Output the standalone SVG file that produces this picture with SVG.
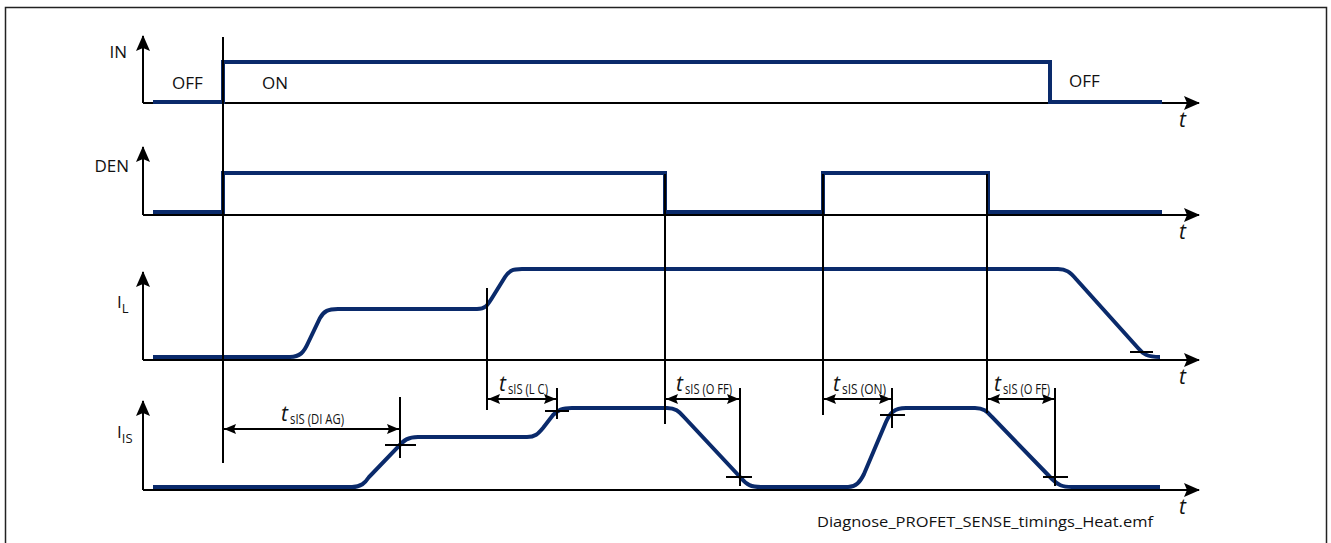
<svg xmlns="http://www.w3.org/2000/svg" width="1331" height="543" viewBox="0 0 1331 543">
<style>
.ax{stroke:#000;stroke-width:2;fill:none}
.ln{stroke:#000;stroke-width:2;fill:none}
.sig{stroke:#0a2a6b;stroke-width:4;fill:none;stroke-linejoin:miter}
.lbl{font-family:"Open Sans","Noto Sans",sans-serif;font-size:17px;fill:#111}
.t{font-family:"Open Sans","Noto Sans",sans-serif;font-size:21px;font-style:italic;fill:#111}
.sub{font-family:"Open Sans","Noto Sans",sans-serif;font-size:14px;fill:#111}
.foot{font-family:"Open Sans","Noto Sans",sans-serif;font-size:14px;fill:#111}
</style>
<defs>
<marker id="ah" markerUnits="userSpaceOnUse" markerWidth="16" markerHeight="14" refX="15" refY="7" orient="auto">
<path d="M0 0 L16 7 L0 14 L3 7 Z" fill="#000"/>
</marker>
<marker id="dh" markerUnits="userSpaceOnUse" markerWidth="12" markerHeight="10" refX="12" refY="5" orient="auto-start-reverse">
<path d="M0 0 L12 5 L0 10 L2 5 Z" fill="#000"/>
</marker>
</defs>
<rect x="5.5" y="7.5" width="1321" height="545" fill="#fff" stroke="#222" stroke-width="1.5"/>

<g id="axis-in">
<polyline class="ax" points="143,103 143,36" marker-end="url(#ah)"/>
<line class="ax" x1="143" y1="103" x2="1199" y2="103" marker-end="url(#ah)"/>
<text class="lbl" x="127" y="58" text-anchor="end">IN</text>
<text class="t" x="1179" y="127">t</text>
<text class="lbl" x="172" y="89">OFF</text>
<text class="lbl" x="262" y="89">ON</text>
<text class="lbl" x="1069" y="87">OFF</text>
</g>
<g id="axis-den">
<polyline class="ax" points="143,215 143,147" marker-end="url(#ah)"/>
<line class="ax" x1="143" y1="215" x2="1199" y2="215" marker-end="url(#ah)"/>
<text class="lbl" x="129" y="172" text-anchor="end">DEN</text>
<text class="t" x="1179" y="239">t</text>
</g>
<g id="axis-il">
<polyline class="ax" points="143,360 143,272" marker-end="url(#ah)"/>
<line class="ax" x1="143" y1="360" x2="1199" y2="360" marker-end="url(#ah)"/>
<text class="lbl" x="117" y="308">I<tspan font-size="13" dy="5">L</tspan></text>
<text class="t" x="1179" y="384">t</text>
</g>
<g id="axis-iis">
<polyline class="ax" points="143,490 143,401" marker-end="url(#ah)"/>
<line class="ax" x1="143" y1="490" x2="1199" y2="490" marker-end="url(#ah)"/>
<text class="lbl" x="117" y="438">I<tspan font-size="13" dy="5">IS</tspan></text>
<text class="t" x="1179" y="514">t</text>
</g>

<g id="signals">
<path id="sig-in" class="sig" d="M153 102 L223 102 L223 62 L1050 62 L1050 102 L1162 102"/>
<path id="sig-den" class="sig" d="M153 212 L223 212 L223 173 L665 173 L665 212 L823 212 L823 173 L988 173 L988 212 L1162 212"/>
<path id="sig-il" class="sig" d="M153 357 L290 357 C300 357 304 352 308 343 L320 318 C324 311 328 309 338 309 L477 309 C485 309 487 306 492 298 L505 277 C509 271 512 269 522 269 L1058 269 C1066 269 1070 272 1076 279 L1138 348 C1143 354 1147 357 1160 357"/>
<path id="sig-iis" class="sig" d="M153 487 L352 487 C361 487 365 483 369 477 L398 447 C404 440 408 437 418 437 L527 437 C535 437 538 434 543 428 L553 415 C558 410 562 408 572 408 L667 408 C675 408 679 411 684 417 L741 478 C747 485 751 487 761 487 L848 487 C856 487 860 482 864 474 L886 422 C890 413 894 408 906 408 L975 408 C983 408 987 411 992 417 L1052 479 C1058 485 1062 487 1072 487 L1160 487"/>
</g>

<g id="connectors">
<line class="ln" x1="223" y1="37" x2="223" y2="463"/>
<line class="ln" x1="487" y1="288" x2="487" y2="410"/>
<line class="ln" x1="665" y1="174" x2="665" y2="424"/>
<line class="ln" x1="823" y1="174" x2="823" y2="415"/>
<line class="ln" x1="987" y1="174" x2="987" y2="413"/>
<line class="ln" x1="400" y1="397" x2="400" y2="458"/>
<line class="ln" x1="385" y1="445" x2="416" y2="445"/>
<line class="ln" x1="557" y1="388" x2="557" y2="419"/>
<line class="ln" x1="545" y1="411" x2="569" y2="411"/>
<line class="ln" x1="740" y1="388" x2="740" y2="486"/>
<line class="ln" x1="726" y1="477" x2="752" y2="477"/>
<line class="ln" x1="892" y1="388" x2="892" y2="428"/>
<line class="ln" x1="880" y1="415" x2="905" y2="415"/>
<line class="ln" x1="1055" y1="388" x2="1055" y2="486"/>
<line class="ln" x1="1043" y1="477" x2="1068" y2="477"/>
<line class="ln" x1="1130" y1="352" x2="1153" y2="352"/>
<line class="ln" x1="224" y1="429" x2="399" y2="429" marker-start="url(#dh)" marker-end="url(#dh)"/>
<line class="ln" x1="488" y1="399" x2="556" y2="399" marker-start="url(#dh)" marker-end="url(#dh)"/>
<line class="ln" x1="666" y1="399" x2="739" y2="399" marker-start="url(#dh)" marker-end="url(#dh)"/>
<line class="ln" x1="824" y1="399" x2="891" y2="399" marker-start="url(#dh)" marker-end="url(#dh)"/>
<line class="ln" x1="988" y1="399" x2="1054" y2="399" marker-start="url(#dh)" marker-end="url(#dh)"/>
</g>

<g id="labels">
<text class="t" x="281" y="421">t</text><text class="sub" x="290" y="424" textLength="54" lengthAdjust="spacingAndGlyphs">sIS (DI AG)</text>
<text class="t" x="499" y="391">t</text><text class="sub" x="508" y="394" textLength="40" lengthAdjust="spacingAndGlyphs">sIS (L C)</text>
<text class="t" x="676" y="391">t</text><text class="sub" x="685" y="394" textLength="47" lengthAdjust="spacingAndGlyphs">sIS (O FF)</text>
<text class="t" x="833" y="391">t</text><text class="sub" x="842" y="394" textLength="44" lengthAdjust="spacingAndGlyphs">sIS (ON)</text>
<text class="t" x="994" y="391">t</text><text class="sub" x="1003" y="394" textLength="47" lengthAdjust="spacingAndGlyphs">sIS (O FF)</text>
<text class="foot" x="817" y="527" textLength="336" lengthAdjust="spacingAndGlyphs">Diagnose_PROFET_SENSE_timings_Heat.emf</text>
</g>
</svg>
